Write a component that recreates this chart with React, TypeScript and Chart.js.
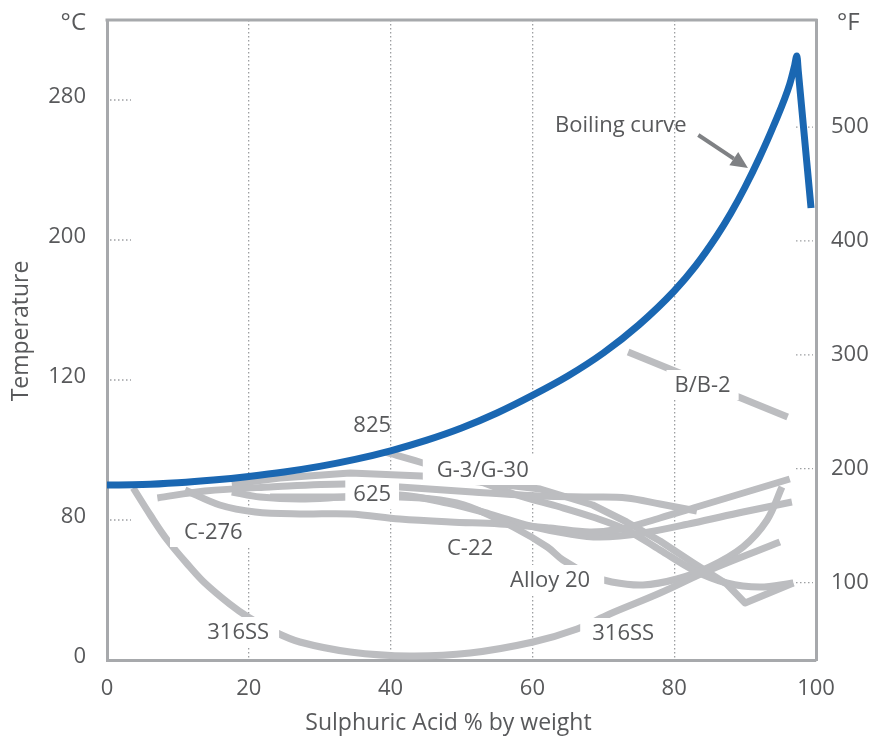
import React, { useEffect, useRef } from 'react';
import { Chart, registerables } from 'chart.js';

Chart.register(...registerables);

type Pt = [number, number];

// Axis ticks
const xTickValues = [0, 20, 40, 60, 80, 100];
const cTickValues = [0, 70, 140, 210, 280];
const cTickLabels = ['0', '80', '120', '200', '280'];
const fTickValues = [100, 200, 300, 400, 500];

// Boiling curve (x = % H2SO4, y on the °C axis)
const boiling: Pt[] = [
  [0, 87.5], [5, 87.7], [10, 88.6], [15, 90], [20, 91.8], [25, 94], [30, 96.8],
  [35, 100.3], [40, 104.6], [45, 109.8], [50, 116], [55, 123.5], [60, 132.3], [65, 142],
  [70, 153.5], [75, 167.5], [80, 184.5], [83, 197], [86, 212], [88, 223.5], [90, 236.5],
  [92, 251], [94, 267], [96.3, 288], [97, 297.5], [97.3, 302], [97.5, 294.5], [99.3, 226],
];

// Iso-corrosion curves
const ss316: Pt[] = [
  [3.7, 86], [6.1, 72.5], [8.5, 60], [11.7, 46.5], [13.8, 38.5], [17.3, 28], [19.9, 21.5],
  [23.7, 14], [27.2, 9], [34.3, 4], [42.7, 2], [51.2, 3.5], [60.1, 9], [66.3, 15.5],
  [70.9, 23], [78, 33.5], [85, 45], [94.9, 59],
];
const c276: Pt[] = [
  [11, 85], [15.9, 77.5], [20.9, 74], [27.2, 73], [34.3, 73], [41.3, 70.5], [48.4, 69],
  [55.4, 68], [62.5, 66], [68.1, 64], [72.4, 65.5], [78, 71], [82.7, 76], [87.4, 81], [96.3, 90.5],
];
const c22: Pt[] = [
  [17.6, 84], [21.6, 81.5], [27.2, 80.5], [33.6, 81.5], [41.3, 82.5], [48, 78.5], [54, 73],
  [59.7, 67], [65.3, 63], [69.5, 61.5], [75.6, 63.5], [82.7, 68.5], [89.7, 74], [96.6, 79],
];
const a625: Pt[] = [
  [7.1, 81], [13.8, 84.5], [23, 86.5], [33.6, 88], [41.3, 86.5], [51.6, 84], [61.1, 82],
  [68.5, 81.5], [73.3, 81], [78, 78], [83.2, 74.5],
];
const g3g30: Pt[] = [
  [17.6, 88], [24.4, 91], [34.3, 93.5], [44.4, 92], [52.6, 89], [61.1, 85.5], [68.5, 77.5],
  [73.3, 69], [78, 59.5], [82.7, 48.5], [87.4, 38], [90, 28.5], [96.8, 38.5],
];
const a825: Pt[] = [
  [39.2, 104], [44.1, 99], [51.2, 91], [57.8, 82.5], [63.9, 76.5], [68.5, 71.5], [73.3, 65],
  [78, 55], [82.7, 45], [87.4, 38.5], [92.1, 36.5], [96.8, 38.5],
];
const alloy20: Pt[] = [
  [23, 81.5], [31.5, 81.5], [41.3, 81.5], [47, 80], [51.2, 76.5], [57.3, 66.5], [62.1, 56.5],
  [64.3, 50], [68.1, 42.5], [71.2, 39], [75.6, 37.5], [80.4, 40.5], [85, 46.5], [89.7, 56.5],
  [93.1, 70], [95.2, 86.5],
];
const bb2: Pt[] = [[73.5, 154], [96, 121.5]];

// In-plot labels (data coordinates)
const plotLabels = [
  { text: '825', x: 37.4, y: 117.5, pad: 0 },
  { text: 'G-3/G-30', x: 53, y: 95, pad: 14 },
  { text: '625', x: 37.4, y: 83, pad: 8 },
  { text: 'C-276', x: 15, y: 64, pad: 14 },
  { text: '316SS', x: 18.5, y: 14, pad: 10 },
  { text: 'C-22', x: 51.2, y: 56, pad: 0 },
  { text: 'Alloy 20', x: 62.5, y: 40, pad: 14 },
  { text: '316SS', x: 72.8, y: 13.5, pad: 12 },
  { text: 'B/B-2', x: 84, y: 137.5, pad: 8 },
];
const boilingNote = { text: 'Boiling curve', x: 63.2, y: 267, ax1: 83.4, ay1: 262.5, ax2: 90.4, ay2: 246 };
const xTitle = 'Sulphuric Acid % by weight';
const yTitle = 'Temperature';

const FONT = '"Open Sans", "DejaVu Sans", sans-serif';
const TEXT = '#58595b';
const AXIS = '#a7a9ac';
const GRID = '#9d9fa2';
const GRAY = '#bcbdc0';
const BLUE = '#1a67b2';

const toXY = (pts: Pt[]) => pts.map(([x, y]) => ({ x, y }));

const decor = {
  id: 'decor',
  beforeDatasetsDraw(chart: any) {
    const { ctx, chartArea: a, scales } = chart;
    ctx.save();
    ctx.strokeStyle = AXIS;
    ctx.lineWidth = 3;
    ctx.beginPath();
    ctx.moveTo(a.left - 1.5, a.top);
    ctx.lineTo(a.right + 1.5, a.top);
    ctx.stroke();
    ctx.setLineDash([1.5, 2.5]);
    ctx.lineWidth = 1.3;
    ctx.strokeStyle = GRID;
    for (const t of scales.y.ticks) {
      const py = scales.y.getPixelForValue(t.value);
      if (py > a.bottom - 3) continue;
      ctx.beginPath();
      ctx.moveTo(a.left + 3, py);
      ctx.lineTo(a.left + 24, py);
      ctx.stroke();
    }
    for (const t of scales.yF.ticks) {
      const py = scales.yF.getPixelForValue(t.value);
      ctx.beginPath();
      ctx.moveTo(a.right - 20, py);
      ctx.lineTo(a.right - 3, py);
      ctx.stroke();
    }
    ctx.restore();
  },
  beforeDatasetDraw(chart: any, args: any) {
    if (args.index !== 0) return;
    const { ctx, scales } = chart;
    ctx.save();
    ctx.font = `22px ${FONT}`;
    ctx.textAlign = 'center';
    ctx.textBaseline = 'middle';
    for (const l of plotLabels) {
      const px = scales.x.getPixelForValue(l.x);
      const py = scales.y.getPixelForValue(l.y);
      const w = ctx.measureText(l.text).width;
      if (l.pad > 0) {
        ctx.fillStyle = '#ffffff';
        ctx.fillRect(px - w / 2 - l.pad, py - 15, w + 2 * l.pad, 30);
      }
      ctx.fillStyle = TEXT;
      ctx.fillText(l.text, px, py + 1);
    }
    ctx.restore();
  },
  afterDatasetsDraw(chart: any) {
    const { ctx, chartArea: a, scales } = chart;
    ctx.save();
    ctx.font = `22px ${FONT}`;
    ctx.fillStyle = TEXT;
    ctx.textBaseline = 'middle';
    ctx.textAlign = 'left';
    ctx.fillText(boilingNote.text, scales.x.getPixelForValue(boilingNote.x), scales.y.getPixelForValue(boilingNote.y));
    // arrow
    const x1 = scales.x.getPixelForValue(boilingNote.ax1);
    const y1 = scales.y.getPixelForValue(boilingNote.ay1);
    const x2 = scales.x.getPixelForValue(boilingNote.ax2);
    const y2 = scales.y.getPixelForValue(boilingNote.ay2);
    const ang = Math.atan2(y2 - y1, x2 - x1);
    const head = 17;
    const hw = 8;
    const bx = x2 - head * Math.cos(ang);
    const by = y2 - head * Math.sin(ang);
    ctx.strokeStyle = '#7f8184';
    ctx.fillStyle = '#7f8184';
    ctx.lineWidth = 4;
    ctx.beginPath();
    ctx.moveTo(x1, y1);
    ctx.lineTo(bx, by);
    ctx.stroke();
    ctx.beginPath();
    ctx.moveTo(x2, y2);
    ctx.lineTo(bx + hw * Math.sin(ang), by - hw * Math.cos(ang));
    ctx.lineTo(bx - hw * Math.sin(ang), by + hw * Math.cos(ang));
    ctx.closePath();
    ctx.fill();
    // units
    ctx.fillStyle = TEXT;
    ctx.font = `24px ${FONT}`;
    ctx.textAlign = 'right';
    ctx.fillText('°C', a.left - 21, a.top + 3);
    ctx.textAlign = 'left';
    ctx.fillText('°F', a.right + 21, a.top + 3);
    // axis titles
    ctx.font = `23px ${FONT}`;
    ctx.textAlign = 'center';
    ctx.fillText(xTitle, (a.left + a.right) / 2 - 13, a.bottom + 63);
    ctx.translate(a.left - 86, (a.top + a.bottom) / 2 - 9);
    ctx.rotate(-Math.PI / 2);
    ctx.fillText(yTitle, 0, 0);
    ctx.restore();
  },
};

const grayLine = (pts: Pt[], tension = 0.35) => ({
  data: toXY(pts),
  borderColor: GRAY,
  borderWidth: 7,
  pointRadius: 0,
  tension,
  borderCapStyle: 'butt',
  borderJoinStyle: 'round',
  fill: false,
});

export default function App() {
  const ref = useRef<HTMLCanvasElement | null>(null);
  useEffect(() => {
    if (!ref.current) return;
    const chart = new Chart(ref.current, {
      type: 'line',
      data: {
        datasets: [
          {
            data: toXY(boiling),
            borderColor: BLUE,
            borderWidth: 7,
            pointRadius: 0,
            cubicInterpolationMode: 'monotone',
            borderCapStyle: 'butt',
            borderJoinStyle: 'miter',
            fill: false,
          },
          grayLine(bb2, 0),
          grayLine(ss316),
          grayLine(alloy20),
          grayLine(c276),
          grayLine(c22),
          grayLine(a625),
          grayLine(a825),
          grayLine(g3g30, 0),
        ] as any,
      },
      options: {
        responsive: false,
        animation: false,
        events: [],
        layout: { padding: { top: 20, left: 0, right: 0, bottom: 0 } },
        plugins: { legend: { display: false }, tooltip: { enabled: false } },
        scales: {
          x: {
            type: 'linear',
            min: 0,
            max: 100,
            afterBuildTicks: (s: any) => { s.ticks = xTickValues.map((v) => ({ value: v })); },
            afterFit: (s: any) => { s.height = 82; s.paddingLeft = 0; s.paddingRight = 0; },
            ticks: { color: TEXT, font: { family: FONT, size: 22 }, padding: 16, maxRotation: 0 },
            grid: {
              color: (c: any) => (c.tick && (c.tick.value === 0 || c.tick.value === 100) ? 'rgba(0,0,0,0)' : GRID),
              lineWidth: 1.3,
              drawTicks: false,
            },
            border: { color: AXIS, width: 3, dash: [1.5, 2.5] },
          },
          y: {
            type: 'linear',
            position: 'left',
            min: 0,
            max: 320,
            afterBuildTicks: (s: any) => { s.ticks = cTickValues.map((v) => ({ value: v })); },
            afterFit: (s: any) => { s.width = 107; s.paddingTop = 0; s.paddingBottom = 0; },
            ticks: {
              color: TEXT,
              font: { family: FONT, size: 22 },
              padding: 21,
              labelOffset: -3,
              callback: (v: any) => cTickLabels[cTickValues.indexOf(Number(v))] ?? '',
            },
            grid: { drawOnChartArea: false, drawTicks: false },
            border: { color: AXIS, width: 3 },
          },
          yF: {
            type: 'linear',
            position: 'right',
            min: 32,
            max: 594,
            afterBuildTicks: (s: any) => { s.ticks = fTickValues.map((v) => ({ value: v })); },
            afterFit: (s: any) => { s.width = 56; s.paddingTop = 0; s.paddingBottom = 0; },
            ticks: { color: TEXT, font: { family: FONT, size: 22 }, padding: 15 },
            grid: { drawOnChartArea: false, drawTicks: false },
            border: { color: AXIS, width: 3 },
          },
        },
      } as any,
      plugins: [decor],
    });
    return () => chart.destroy();
  }, []);
  return (
    <div style={{ position: 'absolute', left: 0, top: 0, width: 872, height: 742, background: '#fff' }}>
      <canvas ref={ref} width={872} height={742} style={{ display: 'block' }} />
    </div>
  );
}
